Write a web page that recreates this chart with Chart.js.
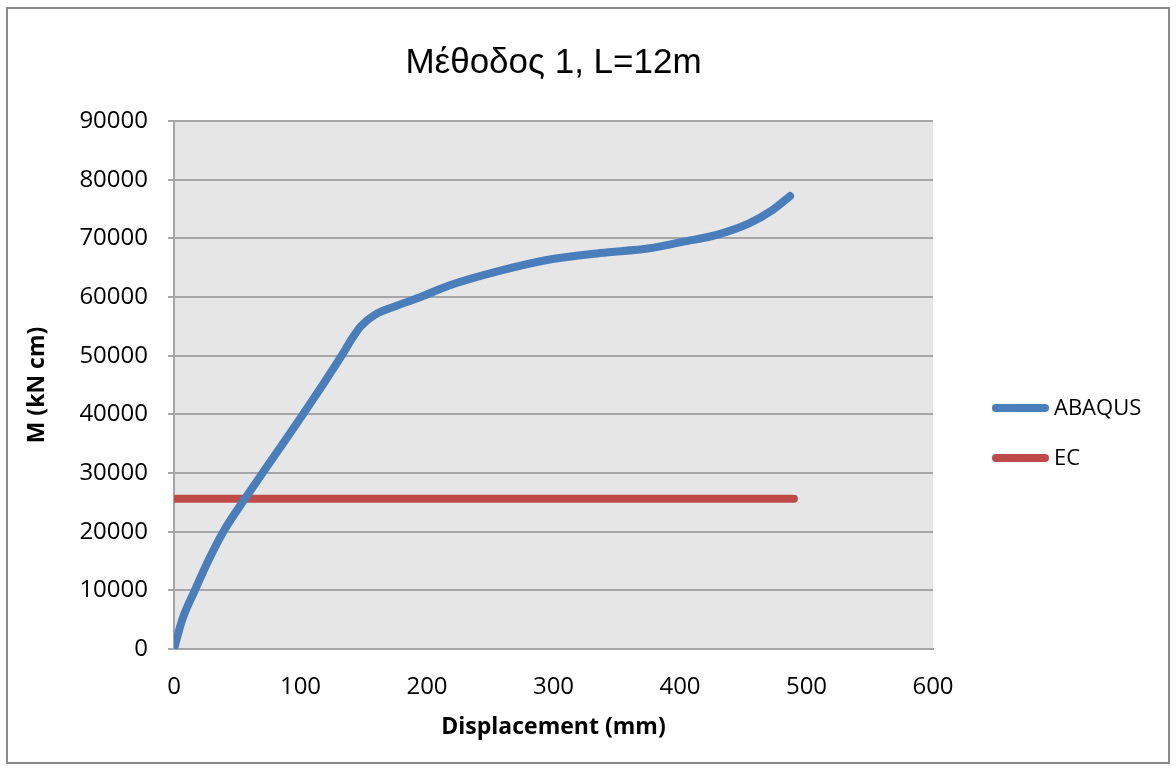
<!DOCTYPE html>
<html>
<head>
<meta charset="utf-8">
<title>Μέθοδος 1, L=12m</title>
<script src="https://cdn.jsdelivr.net/npm/chart.js@4.4.1/dist/chart.umd.min.js"></script>
<style>
html,body{margin:0;padding:0;background:#fff;}
#wrap{position:relative;width:1176px;height:769px;}
#frame{position:absolute;left:6px;top:7px;width:1160px;height:753px;border:2px solid #8a8a8a;pointer-events:none;}
</style>
</head>
<body>
<div id="wrap"><canvas id="chart" width="1176" height="769"></canvas><div id="frame"></div></div>
<script>
// data
const abaqusDisp = [0, 6.5, 16.5, 27, 39, 56, 70, 86, 102, 117.5, 132.5, 141, 147.6, 159, 176, 195, 218, 258, 297, 337, 376, 402, 429, 455, 473, 487];
const abaqusM    = [0, 5000, 10000, 15000, 20000, 25600, 30000, 35000, 40000, 45000, 50000, 53000, 55000, 57000, 58500, 60000, 62000, 64500, 66400, 67500, 68300, 69400, 70600, 72600, 74800, 77200];
const ecDisp = [0, 490];
const ecM    = [25600, 25600];
const xTickValues = [0, 100, 200, 300, 400, 500, 600];
const yTickValues = [0, 10000, 20000, 30000, 40000, 50000, 60000, 70000, 80000, 90000];

const toPts = (xs, ys) => xs.map((x, i) => ({ x, y: ys[i] }));

// grey plot area + white page
const plotBg = {
  id: 'plotBg',
  beforeDraw(c) {
    const { ctx, chartArea: a } = c;
    ctx.save();
    ctx.fillStyle = '#fff'; ctx.fillRect(0, 0, c.width, c.height);
    ctx.fillStyle = '#e6e6e6'; ctx.fillRect(a.left, a.top, a.width, a.height);
    ctx.restore();
  }
};

// excel-like legend on the right
const sideLegend = {
  id: 'sideLegend',
  afterDraw(c) {
    const ctx = c.ctx;
    ctx.save();
    ctx.font = '22px "Open Sans"'; ctx.textBaseline = 'middle';
    c.data.datasets.forEach((ds, i) => {
      const y = 408 + i * 50;
      ctx.strokeStyle = ds.borderColor; ctx.lineWidth = ds.borderWidth; ctx.lineCap = 'round';
      ctx.beginPath(); ctx.moveTo(996, y); ctx.lineTo(1045, y); ctx.stroke();
      ctx.fillStyle = '#000'; ctx.fillText(ds.label, 1054, y + 1);
    });
    ctx.restore();
  }
};

const tickFont = { family: '"Open Sans"', size: 24 };
const gridGrey = '#a6a6a6';

new Chart(document.getElementById('chart'), {
  type: 'scatter',
  data: {
    datasets: [
      { label: 'ABAQUS', data: toPts(abaqusDisp, abaqusM), showLine: true, borderColor: '#4a7ebb', borderWidth: 8,
        borderCapStyle: 'round', borderJoinStyle: 'round', pointRadius: 0, cubicInterpolationMode: 'monotone' },
      { label: 'EC', data: toPts(ecDisp, ecM), showLine: true, borderColor: '#be4b48', borderWidth: 8,
        borderCapStyle: 'round', pointRadius: 0 }
    ]
  },
  options: {
    responsive: false, animation: false, devicePixelRatio: 1,
    layout: { padding: { left: 10, right: 243, top: 0, bottom: 18 } },
    plugins: {
      legend: { display: false }, tooltip: { enabled: false },
      title: { display: true, text: 'Μέθοδος 1, L=12m', fullSize: false, color: '#000',
        font: { family: '"Liberation Sans", Arial', size: 35, weight: 'normal' }, padding: { top: 42, bottom: 37 } }
    },
    scales: {
      x: {
        type: 'linear', min: 0, max: 600,
        afterBuildTicks: s => { s.ticks = xTickValues.map(v => ({ value: v })); },
        afterFit: s => { s.height = 102; },
        grid: { display: false, drawTicks: false, tickLength: 0 },
        border: { display: true, color: gridGrey, width: 2 },
        ticks: { color: '#000', font: tickFont, padding: 24, maxRotation: 0, callback: v => String(v) },
        title: { display: true, text: 'Displacement (mm)', color: '#000',
          font: { family: '"Open Sans"', size: 23, weight: 'bold' }, padding: { top: 0, bottom: 10 } }
      },
      y: {
        min: 0, max: 90000,
        afterBuildTicks: s => { s.ticks = yTickValues.map(v => ({ value: v })); },
        afterFit: s => { s.width = 164; },
        grid: { color: gridGrey, lineWidth: 2, tickLength: 6 },
        border: { color: gridGrey, width: 2 },
        ticks: { color: '#000', font: tickFont, padding: 20, callback: v => String(v) },
        title: { display: true, text: 'M (kN cm)', color: '#000',
          font: { family: '"Open Sans"', size: 23, weight: 'bold' }, padding: { top: 14, bottom: 27 } }
      }
    }
  },
  plugins: [plotBg, sideLegend]
});
</script>
</body>
</html>
